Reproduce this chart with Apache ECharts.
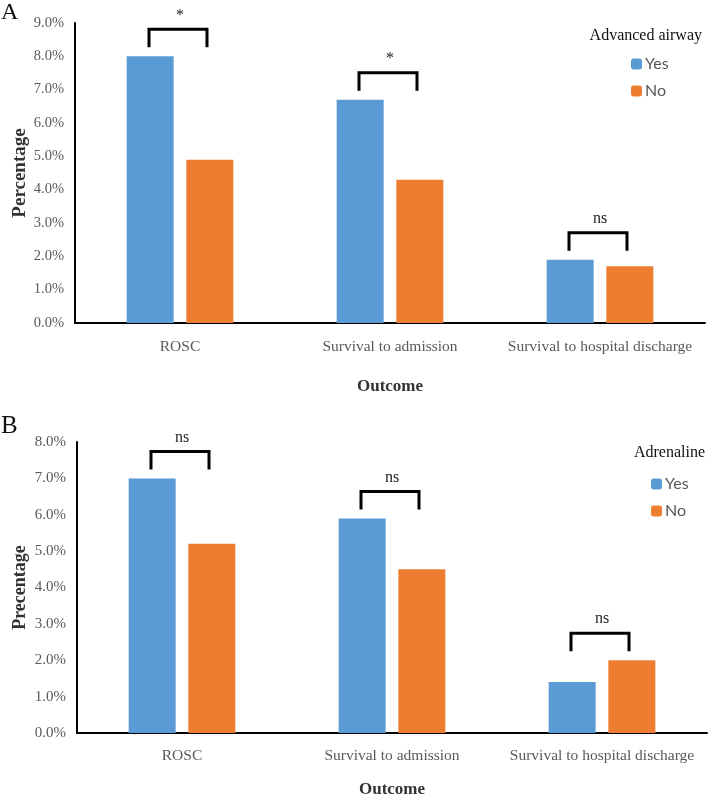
<!DOCTYPE html>
<html>
<head>
<meta charset="utf-8">
<script src="https://cdn.jsdelivr.net/npm/echarts@6/dist/echarts.min.js"></script>
<style>
html,body{margin:0;padding:0;background:#fff;}
#c{width:708px;height:794px;}
</style>
</head>
<body>
<div id="c"></div>
<script>
var categories = ['ROSC', 'Survival to admission', 'Survival to hospital discharge'];
var yTicksA = [0, 1, 2, 3, 4, 5, 6, 7, 8, 9];
var yTicksB = [0, 1, 2, 3, 4, 5, 6, 7, 8];
// Panel A: Advanced airway
var airwayYes = [8.0, 6.7, 1.9];
var airwayNo = [4.9, 4.3, 1.7];
var airwaySig = ['*', '*', 'ns'];
// Panel B: Adrenaline
var adrenalineYes = [7.0, 5.9, 1.4];
var adrenalineNo = [5.2, 4.5, 2.0];
var adrenalineSig = ['ns', 'ns', 'ns'];

var BLUE = '#5B9BD5', ORANGE = '#ED7D31';
var SERIF = '"Liberation Serif","Times New Roman",serif';
var SANS = 'Lato,"Liberation Sans",sans-serif';

function bracketData(yes, no, sig) {
  return categories.map(function (c, i) { return [i, Math.max(yes[i], no[i]), sig[i]]; });
}
function renderBracket(params, api) {
  var p = api.coord([api.value(0), api.value(1)]);
  var cx = p[0] - 2, top = p[1] - 27, legEnd = p[1] - 9;
  var half = 29;
  return {
    type: 'group',
    children: [
      { type: 'polyline', shape: { points: [[cx - half, legEnd], [cx - half, top], [cx + half, top], [cx + half, legEnd]] },
        style: { stroke: '#000', lineWidth: 3, fill: null } },
      { type: 'text', style: { text: api.value(2), x: p[0], y: top - 6, align: 'center', verticalAlign: 'bottom',
        font: '16px ' + SERIF, fill: '#222' } }
    ]
  };
}
function yAxisCfg(gridIndex, max, name, nameGap, labelSize, nameSize) {
  return {
    type: 'value', gridIndex: gridIndex, min: 0, max: max, interval: 1,
    axisLine: { show: true, lineStyle: { color: '#000', width: 2 } },
    axisTick: { show: false }, splitLine: { show: false },
    axisLabel: { formatter: function (v) { return v.toFixed(1) + '%'; }, color: '#595959', fontFamily: SERIF, fontSize: labelSize, margin: 11 },
    name: name, nameLocation: 'middle', nameGap: nameGap, nameRotate: 90, nameMoveOverlap: false,
    nameTextStyle: { fontFamily: SERIF, fontWeight: 'bold', fontSize: nameSize, color: '#333' }
  };
}
function xAxisCfg(gridIndex, labelMargin, nameGap) {
  return {
    type: 'category', gridIndex: gridIndex, data: categories,
    axisLine: { lineStyle: { color: '#000', width: 2 } }, axisTick: { show: false },
    axisLabel: { color: '#595959', fontFamily: SERIF, fontSize: 15.5, margin: labelMargin, interval: 0 },
    name: 'Outcome', nameLocation: 'middle', nameGap: nameGap, nameMoveOverlap: false,
    nameTextStyle: { fontFamily: SERIF, fontWeight: 'bold', fontSize: 17, color: '#333' }
  };
}
function barSeries(name, data, color, idx) {
  return { name: name, type: 'bar', xAxisIndex: idx, yAxisIndex: idx, data: data, barWidth: 47, barGap: '27%',
    itemStyle: { color: color }, animation: false };
}

var chart = echarts.init(document.getElementById('c'));
chart.setOption({
  animation: false,
  title: [
    { text: 'A', left: 1, top: 1, padding: 0, textStyle: { fontFamily: SERIF, fontWeight: 'normal', fontSize: 24, color: '#111' } },
    { text: 'B', left: 1, top: 414, padding: 0, textStyle: { fontFamily: SERIF, fontWeight: 'normal', fontSize: 25, color: '#111' } },
    { text: 'Advanced airway', right: 6, top: 28, padding: 0, textStyle: { fontFamily: SERIF, fontWeight: 'normal', fontSize: 16, color: '#111' } },
    { text: 'Adrenaline', right: 3, top: 445, padding: 0, textStyle: { fontFamily: SERIF, fontWeight: 'normal', fontSize: 16, color: '#111' } }
  ],
  legend: [
    { data: ['Yes', 'No'], orient: 'vertical', left: 631, top: 56, padding: 0, itemWidth: 11, itemHeight: 11, itemGap: 11,
      textStyle: { fontFamily: SANS, fontSize: 16, lineHeight: 16, color: '#595959', padding: [0, 0, 0, -2] }, selectedMode: false },
    { data: ['Yes', 'No'], orient: 'vertical', left: 651, top: 476, padding: 0, itemWidth: 11, itemHeight: 11, itemGap: 11,
      textStyle: { fontFamily: SANS, fontSize: 16, lineHeight: 16, color: '#595959', padding: [0, 0, 0, -2] }, selectedMode: false }
  ],
  grid: [
    { left: 75, top: 23, width: 630, height: 300, containLabel: false, outerBoundsMode: 'none' },
    { left: 77, top: 442, width: 630, height: 291, containLabel: false, outerBoundsMode: 'none' }
  ],
  xAxis: [xAxisCfg(0, 16, 55), xAxisCfg(1, 15, 48)],
  yAxis: [yAxisCfg(0, 9, 'Percentage', 45, 14.5, 19), yAxisCfg(1, 8, 'Precentage', 48, 15, 18)],
  series: [
    barSeries('Yes', airwayYes, BLUE, 0),
    barSeries('No', airwayNo, ORANGE, 0),
    barSeries('Yes', adrenalineYes, BLUE, 1),
    barSeries('No', adrenalineNo, ORANGE, 1),
    { type: 'custom', xAxisIndex: 0, yAxisIndex: 0, data: bracketData(airwayYes, airwayNo, airwaySig), renderItem: renderBracket, z: 5, silent: true },
    { type: 'custom', xAxisIndex: 1, yAxisIndex: 1, data: bracketData(adrenalineYes, adrenalineNo, adrenalineSig), renderItem: renderBracket, z: 5, silent: true }
  ]
});
</script>
</body>
</html>
